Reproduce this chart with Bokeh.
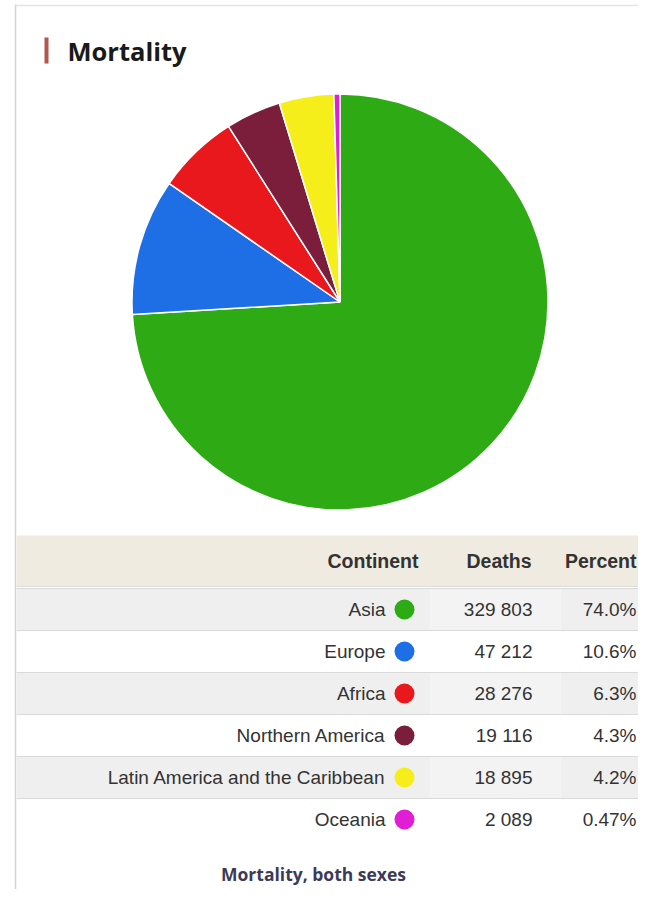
import math
from bokeh.plotting import figure
from bokeh.models import Range1d
from bokeh.core.properties import value
from bokeh.embed import file_html
from bokeh.resources import INLINE

# ---- data ----
continents = ["Asia", "Europe", "Africa", "Northern America",
              "Latin America and the Caribbean", "Oceania"]
deaths = [329803, 47212, 28276, 19116, 18895, 2089]
percent_labels = ["74.0%", "10.6%", "6.3%", "4.3%", "4.2%", "0.47%"]
colors = ["#2eab14", "#1e6ee6", "#e8181c", "#7b1e3c", "#f5ee1a", "#e01fd4"]
headers = ["Continent", "Deaths", "Percent"]
title = "Mortality"
footer = "Mortality, both sexes"

W, H = 638, 889


def Y(py):
    # picture pixel y -> data y (data y grows upward)
    return H - py


p = figure(width=W, height=H, x_range=Range1d(0, W), y_range=Range1d(0, H),
           output_backend="svg", toolbar_location=None, min_border=0,
           x_axis_location=None, y_axis_location=None)
p.grid.visible = False
p.outline_line_color = None
p.background_fill_color = "white"
p.border_fill_color = "white"

# card borders
p.segment(x0=[15], y0=[Y(4)], x1=[15], y1=[Y(H)], line_color="#d4d4d4", line_width=1.5)
p.segment(x0=[15], y0=[Y(5)], x1=[W], y1=[Y(5)], line_color="#e4e4e4", line_width=1.5)

# title
p.quad(left=[44], right=[48], top=[Y(37)], bottom=[Y(63)], fill_color="#b4574a", line_color=None)
p.text(x=[67], y=[Y(50)], text=[title], text_font=value("Open Sans"), text_font_style="bold",
       text_font_size="25.5px", text_color="#1a1a1a", text_baseline="middle", text_align="left")

# pie
total = sum(deaths)
starts, ends = [], []
cum = 0.0
for d in deaths:
    starts.append(math.pi / 2 - 2 * math.pi * cum / total)
    cum += d
    ends.append(math.pi / 2 - 2 * math.pi * cum / total)
n = len(deaths)
cx, cy, R = 339.5, Y(301.5), 208
p.wedge(x=[cx] * n, y=[cy] * n, radius=R, start_angle=starts, end_angle=ends,
        direction="clock", fill_color=colors, line_color="white", line_width=1.5)

# table header
hdr_top, hdr_bot = 535, 586
p.quad(left=[16], right=[W], top=[Y(hdr_top)], bottom=[Y(hdr_bot)], fill_color="#efebe0", line_color=None)
hy = Y((hdr_top + hdr_bot) / 2)
p.text(x=[418, 531, 636], y=[hy] * 3, text=headers, text_font=value("Liberation Sans"),
       text_font_style="bold", text_font_size="19.5px", text_color="#333333",
       text_baseline="middle", text_align="right")

# table rows
row0, rh = 588, 42
for i in range(n):
    top = row0 + rh * i
    bot = top + rh
    if i % 2 == 0:
        p.quad(left=[16], right=[430], top=[Y(top)], bottom=[Y(bot)], fill_color="#efefef", line_color=None)
        p.quad(left=[430], right=[560], top=[Y(top)], bottom=[Y(bot)], fill_color="#f3f3f3", line_color=None)
        p.quad(left=[560], right=[W], top=[Y(top)], bottom=[Y(bot)], fill_color="#efefef", line_color=None)

line_ys = [hdr_bot, row0] + [row0 + rh * (i + 1) for i in range(n - 1)]
p.segment(x0=[16] * len(line_ys), y0=[Y(v) for v in line_ys], x1=[W] * len(line_ys),
          y1=[Y(v) for v in line_ys], line_color="#dadada", line_width=1)

ys = [Y(row0 + rh * i + rh / 2) for i in range(n)]
p.text(x=[385] * n, y=ys, text=continents, text_font=value("Liberation Sans"),
       text_font_size="19px", text_color="#333333", text_baseline="middle", text_align="right")
p.scatter(x=[404] * n, y=ys, size=20, marker="circle", fill_color=colors, line_color=None)
death_txt = [f"{d:,}".replace(",", " ") for d in deaths]
p.text(x=[532] * n, y=ys, text=death_txt, text_font=value("Liberation Sans"),
       text_font_size="19px", text_color="#333333", text_baseline="middle", text_align="right")
p.text(x=[636] * n, y=ys, text=percent_labels, text_font=value("Liberation Sans"),
       text_font_size="19px", text_color="#333333", text_baseline="middle", text_align="right")

# footer
p.text(x=[313], y=[Y(873)], text=[footer], text_font=value("Open Sans"), text_font_style="bold",
       text_font_size="17.5px", text_color="#3b3b58", text_baseline="middle", text_align="center")

open("out.html", "w").write(file_html(p, INLINE))
